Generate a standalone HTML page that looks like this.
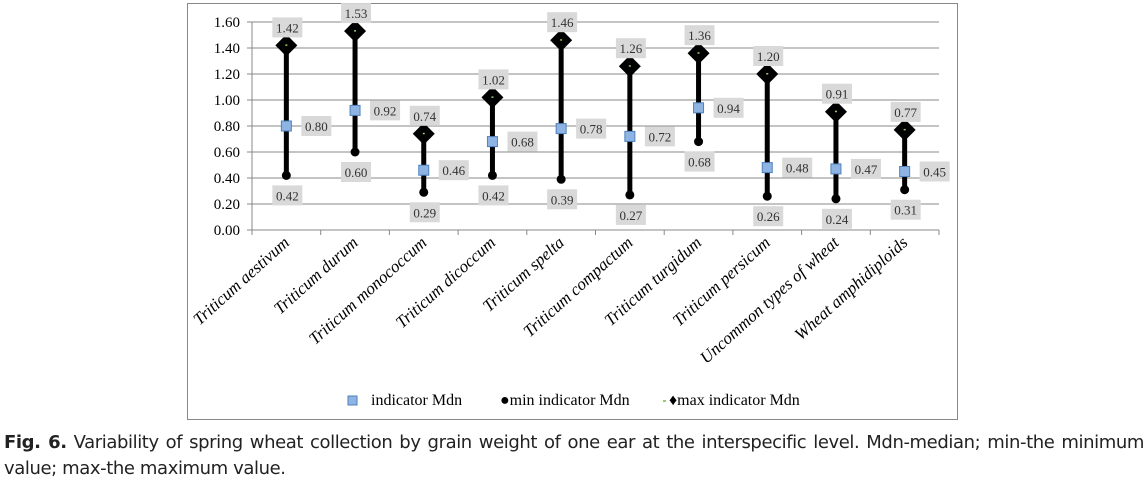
<!DOCTYPE html>
<html><head><meta charset="utf-8"><style>
body{margin:0;width:1148px;height:483px;background:#fff;overflow:hidden;position:relative}
#cap{position:absolute;left:4px;top:430px;width:1140px;font:18px "DejaVu Sans","Liberation Sans",sans-serif;letter-spacing:-0.4px;line-height:26px;text-align:justify;color:#222}
</style></head><body>
<svg id="chart" width="1148" height="425" style="position:absolute;left:0;top:0" font-family="Liberation Serif, serif"></svg>
<div id="cap"><b>Fig. 6.</b> Variability of spring wheat collection by grain weight of one ear at the interspecific level. Mdn-median; min-the minimum value; max-the maximum value.</div>
<script>
const categories=["Triticum aestivum","Triticum durum","Triticum monococcum","Triticum dicoccum","Triticum spelta","Triticum compactum","Triticum turgidum","Triticum persicum","Uncommon types of wheat","Wheat amphidiploids"];
const maxVals=[1.42,1.53,0.74,1.02,1.46,1.26,1.36,1.20,0.91,0.77];
const medVals=[0.80,0.92,0.46,0.68,0.78,0.72,0.94,0.48,0.47,0.45];
const minVals=[0.42,0.60,0.29,0.42,0.39,0.27,0.68,0.26,0.24,0.31];
const yTicks=[0,0.2,0.4,0.6,0.8,1.0,1.2,1.4,1.6];
const svg=document.getElementById('chart');const NS='http://www.w3.org/2000/svg';
function mk(t,a,txt){const e=document.createElementNS(NS,t);for(const k in a)e.setAttribute(k,a[k]);if(txt!=null)e.textContent=txt;svg.appendChild(e);return e;}
const X0=252,X1=939,Y0=230,Y1=22;
const bw=(X1-X0)/categories.length;
const x=i=>X0+bw*(i+0.5);const y=v=>Y0-(v/1.6)*(Y0-Y1);
let e=mk('rect',{x:187.5,y:3.5,width:770,height:416,fill:'#fff',stroke:'#888'});

yTicks.forEach(t=>{
 e=mk('line',{x1:X0-5,x2:X1,y1:y(t),y2:y(t),stroke:'#888'});
 
 e=mk('text',{x:X0-12,y:y(t)+5,'text-anchor':'end','font-size':15},t.toFixed(2));
 
});
e=mk('line',{x1:X0,x2:X0,y1:Y1,y2:Y0,stroke:'#888'});

for(let i=0;i<=categories.length;i++){e=mk('line',{x1:X0+bw*i,x2:X0+bw*i,y1:Y0,y2:Y0+5,stroke:'#888'});
 }
function lbl(cx,cy,t,nm){
 e=mk('rect',{x:cx-15,y:cy-10,width:30,height:20,fill:'#d9d9d9'});
 
 e=mk('text',{x:cx,y:cy+5,'text-anchor':'middle','font-size':13,fill:'#333'},t.toFixed(2));
 
}
categories.forEach((c,i)=>{
 const cx=x(i);
 e=mk('line',{x1:cx,x2:cx,y1:y(maxVals[i]),y2:y(minVals[i]),stroke:'#000','stroke-width':5});
 
 const my=y(maxVals[i]);
 e=mk('polygon',{points:`${cx-11},${my} ${cx},${my-11} ${cx+11},${my} ${cx},${my+11}`,fill:'#000'});
 
 e=mk('rect',{x:cx-1,y:my-1,width:2,height:1.5,fill:'#9c6'});
 
 e=mk('circle',{cx:cx,cy:y(minVals[i]),r:4.5,fill:'#000'});
 
 e=mk('rect',{x:cx-5,y:y(medVals[i])-5,width:10,height:10,fill:'#8eb4e3',stroke:'#4f81bd'});
 
 lbl(cx+1,my-18,maxVals[i],'max');
 lbl(cx+30,y(medVals[i]),medVals[i],'median');
 lbl(cx+1,y(minVals[i])+20,minVals[i],'min');
 e=mk('text',{x:cx+4,y:Y0+14,'text-anchor':'end','font-size':17,'font-style':'italic',transform:`rotate(-42 ${cx+4} ${Y0+14})`},c);
 
});
e=mk('rect',{x:348,y:396,width:9,height:9,fill:'#8eb4e3',stroke:'#4f81bd'});

e=mk('text',{x:371,y:405,'font-size':16},'indicator Mdn');

e=mk('text',{x:500,y:405,'font-size':16},'●min indicator Mdn');

e=mk('rect',{x:663,y:400,width:3,height:2,fill:'#9c6'});

e=mk('text',{x:669,y:405,'font-size':16},'♦max indicator Mdn');

</script>
</body></html>
